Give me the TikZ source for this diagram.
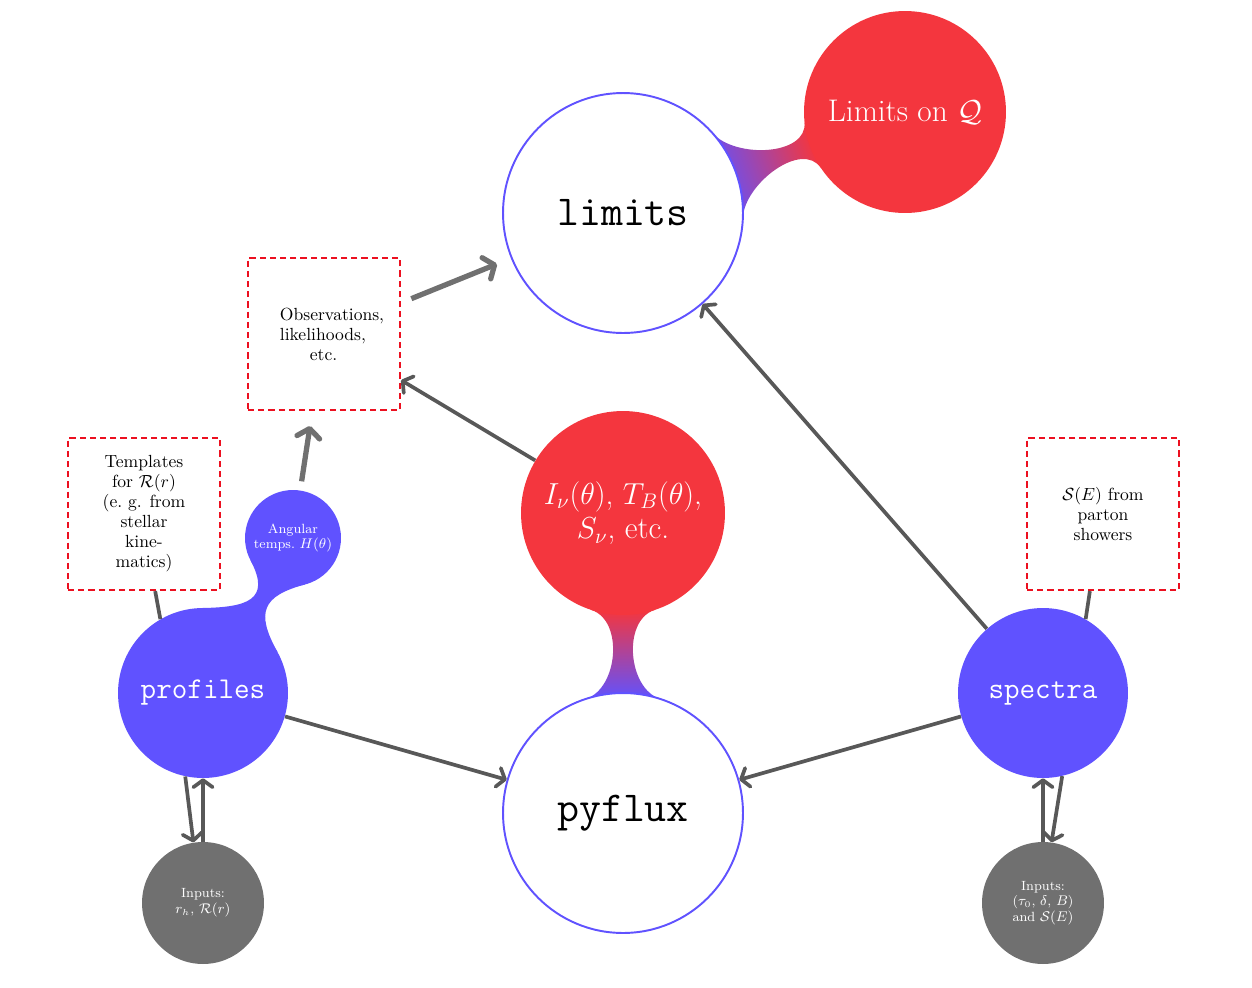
\documentclass[tikz,border=0pt]{standalone}
\usetikzlibrary{arrows.meta,calc}
\definecolor{cblue}{RGB}{96,82,255}
\definecolor{cred}{RGB}{244,54,62}
\definecolor{cgray}{RGB}{112,112,112}
\definecolor{adark}{RGB}{88,88,88}
\definecolor{alight}{RGB}{112,112,112}
\definecolor{dred}{RGB}{236,16,32}
\pgfdeclarelayer{bg}
\pgfsetlayers{bg,main}
\begin{document}
\begin{tikzpicture}[x=0.02cm,y=0.02cm,
 bigwhite/.style={circle,draw=cblue,line width=1.1pt,fill=white,minimum size=4.8cm,inner sep=0pt,font=\fontsize{24.3}{28}\selectfont\ttfamily},
 redball/.style={circle,fill=cred,text=white,inner sep=0pt,align=center,font=\fontsize{17.8}{19.5}\selectfont},
 blueball/.style={circle,fill=cblue,text=white,inner sep=0pt,minimum size=3.4cm,font=\fontsize{17.2}{20}\selectfont\ttfamily},
 smallblue/.style={circle,fill=cblue,text=white,inner sep=0pt,minimum size=1.92cm,align=center,font=\fontsize{7.6}{9}\selectfont},
 inball/.style={circle,fill=cgray,text=white,inner sep=0pt,minimum size=2.44cm,align=center,font=\fontsize{7.6}{9}\selectfont},
 dbox/.style={draw=dred,dash pattern=on 3.5pt off 2.3pt,line width=1.3pt,minimum width=3.04cm,minimum height=3.04cm,inner sep=0pt,font=\fontsize{10}{11.4}\selectfont},
 darr/.style={draw=adark,line width=2.1pt,-{Straight Barb[round,length=4pt,width=11pt]}},
 larr/.style={draw=alight,line width=3pt,-{Straight Barb[round,length=5pt,width=13pt]}},
 dline/.style={draw=adark,line width=2.1pt},
]
\useasboundingbox (0,0) rectangle (1252,-988);

% nodes
\node[bigwhite] (lim) at (623,-213) {limits};
\node[redball,minimum size=4.04cm] (lq) at (905,-112) {Limits on $\mathcal{Q}$};
\node[bigwhite] (pyf) at (623,-813) {pyflux};
\node[redball,minimum size=4.08cm] (inu) at (623,-513) {$I_\nu(\theta)$, $T_B(\theta)$,\\ $S_\nu$, etc.};
\node[blueball] (prof) at (203,-693) {profiles};
\node[blueball] (spec) at (1043,-693) {spectra};
\node[smallblue] (ang) at (293,-538) {Angular\\temps.\ $H(\theta)$};
\node[inball] (inl) at (203,-903) {Inputs:\\$r_h$, $\mathcal{R}(r)$};
\node[inball] (inr) at (1043,-903) {Inputs:\\($\tau_0$, $\delta$, $B$)\\and $\mathcal{S}(E)$};
\node[dbox,align=left] (obs) at (324,-334) {\hspace*{0.32cm}Observations,\\\hspace*{0.32cm}likelihoods,\\\hspace*{0.92cm}etc.};
\node[dbox,align=center] (tmpl) at (144,-514) {Templates\\for $\mathcal{R}(r)$\\(e.\ g. from\\stellar\\kine-\\matics)};
\node[dbox,align=center] (shw) at (1103,-514) {$\mathcal{S}(E)$ from\\parton\\showers};

% necks
\begin{pgfonlayer}{bg}
\shade[top color=cred,bottom color=cblue,shading angle=-70.3]
  ($(lim.center)+(41.7:120)$) .. controls +(-48.3:34) and +(-84.3:34) .. ($(lq.center)+(185.7:101)$)
  -- ($(lq.center)+(213.7:101)$) .. controls +(123.7:34) and +(87.7:34) .. ($(lim.center)+(-2.3:120)$) -- cycle;
\shade[top color=cred,bottom color=cblue]
  ($(pyf.center)+(108:120)$) .. controls +(18:34) and +(-18:34) .. ($(inu.center)+(252:102)$)
  -- ($(inu.center)+(288:102)$) .. controls +(198:34) and +(162:34) .. ($(pyf.center)+(72:120)$) -- cycle;
\fill[cblue]
  ($(prof.center)+(90.9:85)$) .. controls +(0.9:45) and +(-62.1:45) .. ($(ang.center)+(207.9:48)$)
  -- ($(ang.center)+(284.9:48)$) .. controls +(194.9:45) and +(118.9:45) .. ($(prof.center)+(28.9:85)$) -- cycle;
\end{pgfonlayer}

% connectors
\draw[larr,shorten <=0.22cm,shorten >=0.3cm] (obs) -- (lim);
\draw[darr] (inu) -- (obs);
\draw[larr,shorten <=0.18cm,shorten >=0.3cm] (ang) -- (obs);
\draw[darr] (spec) -- (lim);
\draw[darr] (prof) -- (pyf);
\draw[darr] (spec) -- (pyf);
\draw[dline] ($(tmpl.south)!0.145!(tmpl.south east)$) -- (prof.120);
\draw[dline] ($(shw.south)!0.17!(shw.south west)$) -- (spec.60);
\draw[darr] (prof.258) -- (inl.99);
\draw[darr] (inl.north) -- (prof.south);
\draw[darr] (spec.283) -- (inr.82);
\draw[darr] (inr.north) -- (spec.south);
\end{tikzpicture}
\end{document}
